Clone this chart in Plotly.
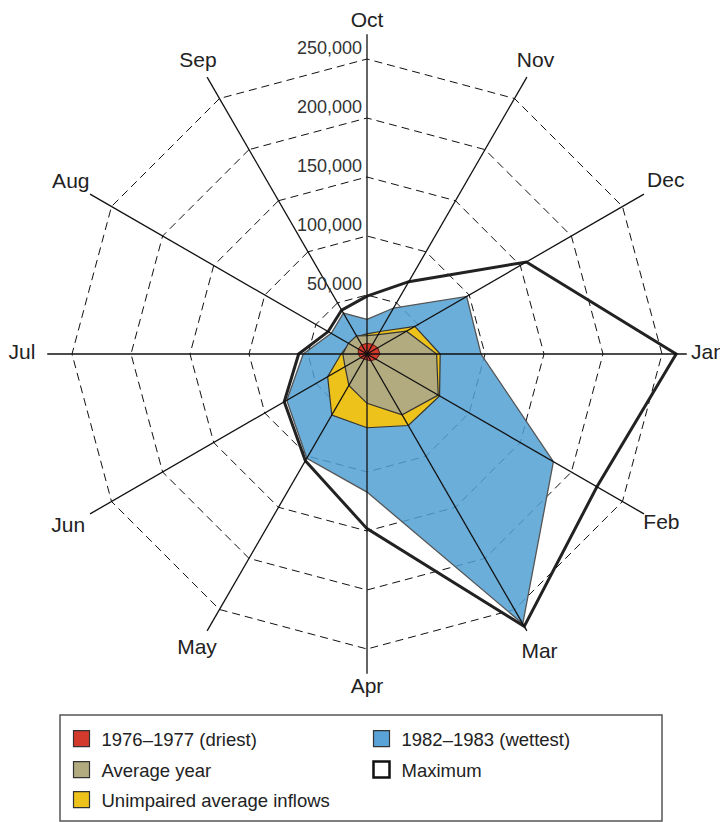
import plotly.graph_objects as go

months = ["Oct", "Nov", "Dec", "Jan", "Feb", "Mar", "Apr", "May", "Jun", "Jul", "Aug", "Sep"]

driest_1976_77 = [9000, 9500, 10500, 11000, 9000, 6500, 5100, 5000, 6500, 7400, 8500, 9000]
average_year = [15500, 19000, 38600, 59000, 69700, 59500, 41800, 30700, 21500, 20500, 18200, 17800]
unimpaired_avg = [17000, 22000, 46800, 62000, 71000, 70000, 62500, 59700, 38500, 22000, 17500, 17000]
wettest_1982_83 = [29400, 45000, 97500, 96600, 182400, 264000, 117000, 102000, 78500, 54000, 35000, 40000]
maximum = [49000, 70800, 156000, 262000, 225000, 266500, 148000, 104500, 81000, 57900, 38000, 43000]

radial_ticks = [50000, 100000, 150000, 200000, 250000]
radial_tick_labels = ["50,000", "100,000", "150,000", "200,000", "250,000"]

FONT = "Liberation Sans, Arial, Helvetica, sans-serif"

W, H = 720, 814          # page body adds an 8px margin
CX, CY = 359, 346        # centre of the star, figure pixels
PX_PER_250K = 295        # pixel radius of the 250,000 ring
R_RANGE = 293000         # radial axis range
R_SPOKE = 271000         # length of the month spokes
RAD = R_RANGE * PX_PER_250K / 250000

# distance (px) of each month name from the centre
label_offset_px = [332, 337, 345, 341, 340, 345, 334, 340, 345, 345, 342, 338]
label_r = [min(p * 250000 / PX_PER_250K, R_RANGE) for p in label_offset_px]


def closed(vals):
    return list(vals) + [vals[0]]


theta_closed = months + [months[0]]

fig = go.Figure()

# 1982-1983 wettest
fig.add_trace(go.Scatterpolar(
    r=closed(wettest_1982_83), theta=theta_closed, mode="lines", fill="toself",
    fillcolor="rgba(81,160,210,0.85)", line=dict(color="#555555", width=1.3),
    showlegend=False, hoverinfo="skip"))

# Maximum
fig.add_trace(go.Scatterpolar(
    r=closed(maximum), theta=theta_closed, mode="lines",
    line=dict(color="#222222", width=3), showlegend=False, hoverinfo="skip"))

# Unimpaired average inflows
fig.add_trace(go.Scatterpolar(
    r=closed(unimpaired_avg), theta=theta_closed, mode="lines", fill="toself",
    fillcolor="#EDC21B", line=dict(color="#333333", width=1.2),
    showlegend=False, hoverinfo="skip"))

# Average year
fig.add_trace(go.Scatterpolar(
    r=closed(average_year), theta=theta_closed, mode="lines", fill="toself",
    fillcolor="#B3AB80", line=dict(color="#333333", width=1.2),
    showlegend=False, hoverinfo="skip"))

# 1976-1977 driest
fig.add_trace(go.Scatterpolar(
    r=closed(driest_1976_77), theta=theta_closed, mode="lines", fill="toself",
    fillcolor="#D33A2C", line=dict(color="#5a1a14", width=1),
    showlegend=False, hoverinfo="skip"))

# spokes on top
spoke_r, spoke_t = [], []
for m in months:
    spoke_r += [0, R_SPOKE, None]
    spoke_t += [m, m, None]
fig.add_trace(go.Scatterpolar(
    r=spoke_r, theta=spoke_t, mode="lines", line=dict(color="#111111", width=1.3),
    showlegend=False, hoverinfo="skip", connectgaps=False))

# radial tick labels
fig.add_trace(go.Scatterpolar(
    r=radial_ticks, theta=["Oct"] * len(radial_ticks), mode="text",
    text=[t + "\u00a0" for t in radial_tick_labels], textposition="top left",
    textfont=dict(family=FONT, size=18, color="#333333"),
    showlegend=False, hoverinfo="skip", cliponaxis=False))

# month labels
fig.add_trace(go.Scatterpolar(
    r=label_r, theta=months, mode="text", text=months,
    textposition="middle center",
    textfont=dict(family=FONT, size=21, color="#222222"),
    showlegend=False, hoverinfo="skip", cliponaxis=False))

# legend entries: (name, fill, outline, outline width, legend id)
legend_items = [
    ("1976\u20131977 (driest)", "#D33A2C", "#333333", 1.2, "legend"),
    ("1982\u20131983 (wettest)", "#5AA3D8", "#333333", 1.2, "legend"),
    ("Average year", "#B3AB80", "#333333", 1.2, "legend2"),
    ("Maximum", "#FFFFFF", "#111111", 2.5, "legend2"),
    ("Unimpaired average inflows", "#EDC21B", "#333333", 1.2, "legend3"),
]
for name, col, lcol, lw, lg in legend_items:
    fig.add_trace(go.Scatterpolar(
        r=[None], theta=["Oct"], mode="markers", name=name, legend=lg,
        marker=dict(symbol="square", size=16, color=col, line=dict(color=lcol, width=lw)),
        hoverinfo="skip"))

row_centers = [731, 762, 792]
leg_common = dict(
    orientation="h", x=53.5 / W, xanchor="left", yanchor="middle",
    borderwidth=0, bgcolor="rgba(0,0,0,0)",
    font=dict(family=FONT, size=18.5, color="#222222"),
    entrywidth=255, traceorder="normal", itemsizing="trace")

fig.update_layout(
    width=W, height=H,
    margin=dict(l=0, r=0, t=0, b=0),
    paper_bgcolor="white", plot_bgcolor="white",
    font=dict(family=FONT, color="#222222"),
    polar=dict(
        domain=dict(x=[(CX - RAD) / W, (CX + RAD) / W],
                    y=[max(0, 1 - (CY + RAD) / H), min(1, 1 - (CY - RAD) / H)]),
        gridshape="linear",
        bgcolor="rgba(0,0,0,0)",
        radialaxis=dict(
            range=[0, R_RANGE], tickvals=radial_ticks, showticklabels=False,
            showline=False, ticks="", angle=90,
            gridcolor="#111111", gridwidth=1.2, griddash="8px,5px"),
        angularaxis=dict(
            type="category", categoryarray=months, direction="clockwise",
            rotation=90, showline=False, showgrid=False, ticks="",
            showticklabels=False),
    ),
    legend=dict(leg_common, y=1 - row_centers[0] / H),
    legend2=dict(leg_common, y=1 - row_centers[1] / H),
    legend3=dict(leg_common, y=1 - row_centers[2] / H),
    shapes=[dict(
        type="rect", xref="paper", yref="paper",
        x0=52 / W, x1=654 / W, y0=1 - 813 / H, y1=1 - 707 / H,
        line=dict(color="#555555", width=1.5), fillcolor="rgba(0,0,0,0)", layer="below")],
    showlegend=True,
)

fig.write_html("out.html")
